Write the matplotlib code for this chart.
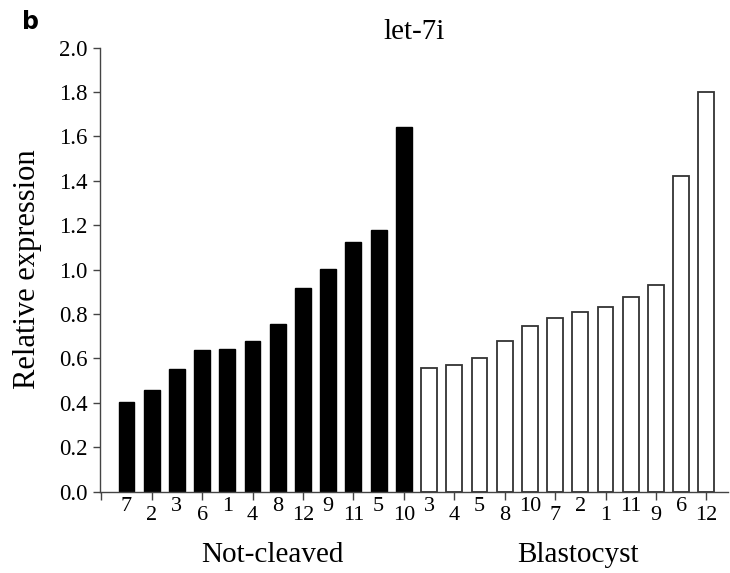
import matplotlib
matplotlib.use("Agg")
import matplotlib.pyplot as plt
from matplotlib.transforms import ScaledTranslation

# sample ids and relative expression of let-7i
not_cleaved_ids = ["7", "2", "3", "6", "1", "4", "8", "12", "9", "11", "5", "10"]
not_cleaved_vals = [0.405, 0.458, 0.553, 0.638, 0.641, 0.679, 0.754, 0.916, 1.002, 1.126, 1.179, 1.641]
blastocyst_ids = ["3", "4", "5", "8", "10", "7", "2", "1", "11", "9", "6", "12"]
blastocyst_vals = [0.556, 0.569, 0.601, 0.677, 0.745, 0.782, 0.808, 0.831, 0.878, 0.932, 1.42, 1.80]
groups = ["Not-cleaved", "Blastocyst"]

plt.rcParams["font.family"] = ["Liberation Serif", "DejaVu Serif"]

fig = plt.figure(figsize=(7.3, 5.73), dpi=100)
ax = fig.add_axes([0.137, 0.142, 0.860, 0.775])

n1 = len(not_cleaved_vals)
n2 = len(blastocyst_vals)
x1 = list(range(1, n1 + 1))
x2 = list(range(n1 + 1, n1 + n2 + 1))
w = 0.63

ax.bar(x1, not_cleaved_vals, width=w, color="black", edgecolor="black", linewidth=1)
ax.bar(x2, blastocyst_vals, width=w, color="white", edgecolor="#333333", linewidth=1.3)

ax.set_ylim(0, 2.0)
ax.set_xlim(-0.05, n1 + n2 + 0.85)
ax.set_yticks([i / 10 for i in range(0, 21, 2)])
ax.set_yticklabels([f"{i / 10:.1f}" for i in range(0, 21, 2)], fontsize=16.5)

# major ticks between pairs of bars, sample ids as minor labels
ax.xaxis.remove_overlapping_locs = False
ax.set_xticks(range(0, n1 + n2 + 1, 2))
ax.set_xticklabels([])
ax.set_xticks(x1 + x2, not_cleaved_ids + blastocyst_ids, minor=True, fontsize=16)
ax.tick_params(axis="x", which="minor", length=0, pad=7)
ax.tick_params(axis="x", which="major", length=6, width=1, color="#444444", direction="out")
ax.tick_params(axis="y", length=5, width=1, color="#444444", pad=4)

for i, lbl in enumerate(ax.get_xticklabels(minor=True)):
    dy = 3 if i % 2 == 0 else -3
    lbl.set_transform(lbl.get_transform() + ScaledTranslation(0, dy / 72, fig.dpi_scale_trans))

for s in ["top", "right"]:
    ax.spines[s].set_visible(False)
for s in ["left", "bottom"]:
    ax.spines[s].set_color("#444444")
    ax.spines[s].set_linewidth(1)

ax.set_ylabel("Relative expression", fontsize=22, labelpad=12)
ax.set_title("let-7i", fontsize=21, pad=6)

# group labels under each set of bars
c1 = (x1[0] + x1[-1]) / 2 + 0.3
c2 = (x2[0] + x2[-1]) / 2 + 0.4
ax.text(c1, -0.142, groups[0], ha="center", va="center", fontsize=21,
        transform=ax.get_xaxis_transform())
ax.text(c2, -0.142, groups[1], ha="center", va="center", fontsize=21,
        transform=ax.get_xaxis_transform())

fig.text(0.042, 0.962, "b", fontsize=17, fontweight="bold", family="DejaVu Sans",
         ha="center", va="center")

fig.savefig("out.png", dpi=100)
